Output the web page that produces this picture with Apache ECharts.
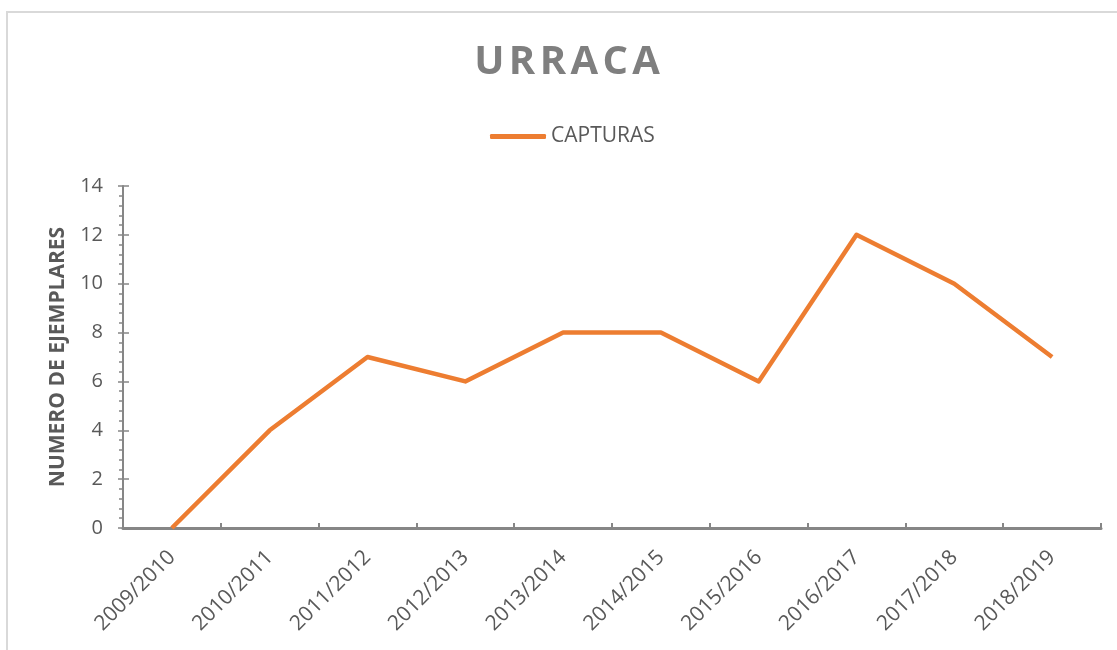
<!DOCTYPE html>
<html><head><meta charset="utf-8">
<script src="https://cdn.jsdelivr.net/npm/echarts@6/dist/echarts.min.js"></script>
<style>html,body{margin:0;padding:0;background:#fff}#c{width:1117px;height:650px}</style>
</head><body><div id="c"></div>
<script>
const categories = ['2009/2010','2010/2011','2011/2012','2012/2013','2013/2014','2014/2015','2015/2016','2016/2017','2017/2018','2018/2019'];
const capturas = [0,4,7,6,8,8,6,12,10,7];
const seriesName = 'CAPTURAS';
const titleText = 'URRACA';
const yAxisName = 'NUMERO DE EJEMPLARES';

const chart = echarts.init(document.getElementById('c'), null, {renderer:'canvas'});
const txt = '#595959', axisC = '#868686', font = 'Open Sans';
const spacedTitle = titleText.split('').map(c => '{l|' + c + '}').join('');
chart.setOption({
  animation:false,
  graphic:[{type:'rect', shape:{x:7,y:12,width:1200,height:700}, style:{fill:'none', stroke:'#d9d9d9', lineWidth:2}, silent:true}],
  title:{text:spacedTitle, left:467, top:38, textStyle:{fontFamily:font, fontWeight:'bold', fontSize:40, color:'#7f7f7f',
    rich:{l:{fontFamily:font, fontWeight:'bold', fontSize:40, color:'#7f7f7f', padding:[0,2.2,0,2.2]}}}},
  legend:{data:[seriesName], left:485, top:121, icon:'roundRect', itemWidth:56, itemHeight:5, itemGap:3,
    textStyle:{fontFamily:font, fontSize:21, color:txt}},
  grid:{left:123, right:16, top:186, bottom:122, containLabel:false},
  xAxis:{type:'category', data:categories, boundaryGap:true,
    axisLine:{lineStyle:{color:axisC, width:3}},
    axisTick:{show:true, inside:true, length:5, alignWithLabel:false, lineStyle:{color:axisC, width:2}},
    axisLabel:{rotate:45, fontFamily:font, fontSize:21, color:txt, margin:26}},
  yAxis:[{type:'value', min:0, max:14, interval:2,
    name:yAxisName, nameLocation:'middle', nameGap:54,
    nameTextStyle:{fontFamily:font, fontWeight:'bold', fontSize:21, color:txt},
    axisLine:{show:true, lineStyle:{color:axisC, width:2}},
    axisTick:{show:true, inside:false, length:5, lineStyle:{color:axisC, width:1.5}},
    minorTick:{show:true, splitNumber:5, length:4, lineStyle:{color:axisC, width:1.5}},
    splitLine:{show:false},
    axisLabel:{fontFamily:font, fontSize:20, color:txt, margin:20}},
   {type:'value', min:0, max:14, interval:2, position:'left',
    axisLine:{show:false}, axisLabel:{show:false}, splitLine:{show:false},
    axisTick:{show:true, inside:true, length:6, lineStyle:{color:axisC, width:1.5}}}],
  series:[{name:seriesName, type:'line', data:capturas, yAxisIndex:0, showSymbol:false, symbol:'none',
    lineStyle:{color:'#ED7D31', width:4.5, join:'round'}, itemStyle:{color:'#ED7D31'}}]
});
</script></body></html>
